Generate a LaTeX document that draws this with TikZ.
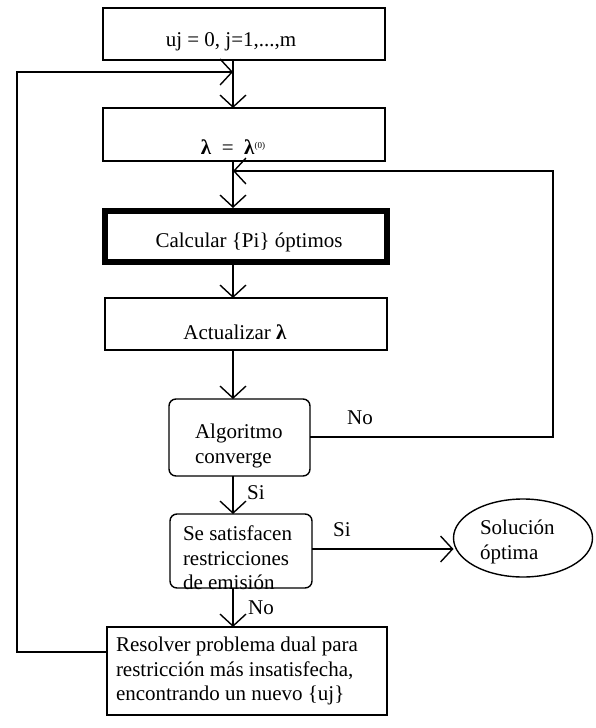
\documentclass[tikz,border=0pt]{standalone}
\usepackage{fontspec}
\setmainfont{Liberation Serif}
\usetikzlibrary{arrows.meta,shapes.geometric}
\begin{document}
\begin{tikzpicture}[x=1pt,y=-1pt,
  every node/.style={inner sep=0pt, outer sep=0pt},
  txt/.style={font=\fontsize{21}{24.5}\selectfont},
  ltxt/.style={font=\fontsize{21}{24.5}\selectfont, align=left, anchor=west},
  box/.style={draw, line width=1.4pt, rectangle},
  rbox/.style={draw, line width=1.4pt, rectangle, rounded corners=7pt},
  tbox/.style={draw, line width=6pt, rectangle},
  oval/.style={draw, line width=1.4pt, ellipse},
  link/.style={line width=1.4pt},
  arr/.style={line width=1.4pt, -{Straight Barb[length=12pt,width=26pt,line width=1.4pt]}}
]
\useasboundingbox (0,0) rectangle (595,728);
% boxes
\node[box, minimum width=282pt, minimum height=52pt] (b1) at (244,34) {};
\node[box, minimum width=282pt, minimum height=53pt] (b2) at (244,134.5) {};
\node[tbox, minimum width=282pt, minimum height=51pt] (b3) at (246,236.5) {};
\node[box, minimum width=282pt, minimum height=52pt] (b4) at (246,324) {};
\node[rbox, minimum width=141pt, minimum height=77pt] (b5) at (239.5,437.5) {};
\node[rbox, minimum width=142pt, minimum height=74pt] (b6) at (241,551) {};
\node[oval, minimum width=139pt, minimum height=78pt] (e1) at (523,538) {};
\node[box, minimum width=280pt, minimum height=88pt] (b7) at (247,671) {};
% texts
\node[txt] (t1) at (231,42) {uj = 0, j=1,...,m};
\node[txt] (t2) at (233,147) {\textbf{λ}\enspace=\enspace\textbf{λ}\raisebox{6pt}{\fontsize{9}{9}\selectfont(0)}};
\node[txt] (t3) at (249,242) {Calcular \{Pi\} óptimos};
\node[txt] (t4) at (235,332) {Actualizar \textbf{λ}};
\node[ltxt] (t5) at (195,446) {Algoritmo\\converge};
\node[ltxt] (t6) at (183,558) {Se satisfacen\\restricciones\\de emisión};
\node[ltxt] (t7) at (116,671) {Resolver problema dual para\\restricción más insatisfecha,\\encontrando un nuevo \{uj\}};
\node[ltxt] (t8) at (480,542) {Solución\\óptima};
% labels
\node[txt] (l1) at (360,418) {No};
\node[txt] (l2) at (256,493) {Si};
\node[txt] (l3) at (342,530) {Si};
\node[txt] (l4) at (261,608) {No};
% spine and junctions
\coordinate (sp) at (233,0);
\coordinate (jl) at (233,72);
\coordinate (jr) at (233,171);
\coordinate (ll) at (17,652);
\coordinate (rr) at (553,437);
\coordinate (sy) at (0,549);
% connectors
\draw[arr] (b1.south -| sp) -- (b2.north -| sp);
\draw[arr] (b2.south -| sp) -- ([yshift=3pt]b3.north -| sp);
\draw[arr] ([yshift=-3pt]b3.south -| sp) -- (b4.north -| sp);
\draw[arr] (b4.south -| sp) -- (b5.north -| sp);
\draw[arr] (b5.south -| sp) -- (b6.north -| sp);
\draw[arr] (b6.south -| sp) -- (b7.north -| sp);
\draw[arr] (b6.east |- sy) -- (e1.west |- sy);
\draw[arr] (b7.west |- ll) -- (ll) |- (jl);
\draw[arr] (b5.east |- rr) -- (rr) |- (jr);
\end{tikzpicture}
\end{document}
